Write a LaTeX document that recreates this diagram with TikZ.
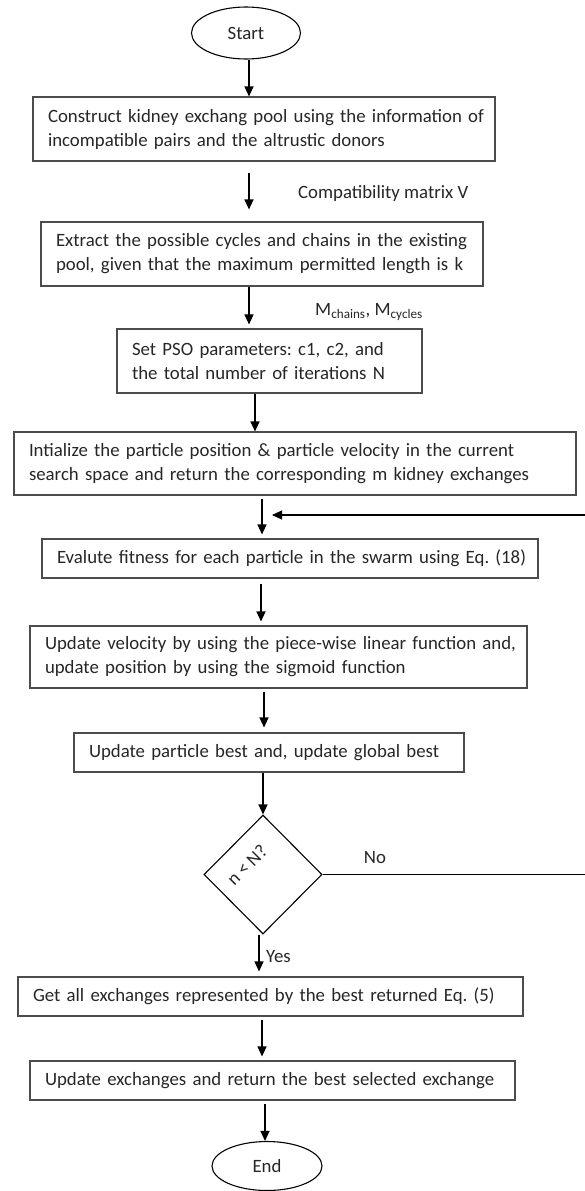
\documentclass[tikz,border=0pt]{standalone}
\usepackage{fontspec}
\setmainfont{Carlito}
\usetikzlibrary{shapes.geometric,arrows.meta}

\newcommand\boxfont{\fontsize{18.8}{24}\selectfont\frenchspacing}

\begin{document}
\begin{tikzpicture}[x=1pt,y=-1pt,
  stepbox/.style={draw=black!70, line width=1.1pt, align=left, inner xsep=15pt,
    inner ysep=0pt, font=\boxfont, text=black!85},
  terminal/.style={draw=black, line width=1.1pt, ellipse, inner sep=0pt,
    font=\boxfont, text=black!85},
  decision/.style={draw=black, line width=1.1pt, diamond, inner sep=0pt},
  lbl/.style={font=\boxfont, text=black!85, inner sep=0pt},
  arr/.style={draw=black, line width=1.2pt, -{Triangle[length=10pt,width=9pt]}}
]
\useasboundingbox (0,0) rectangle (584,1191);

% terminals
\node[terminal, minimum width=109pt, minimum height=52pt] (start) at (246,33) {Start};
\node[terminal, minimum width=110pt, minimum height=49pt] (end) at (267,1166) {End};

% process steps (each line kept whole in an \mbox)
\node[stepbox, text width=432pt, minimum height=64pt] (b1) at (264,129)
  {\mbox{Construct kidney exchang pool using the information of}\\
   \mbox{incompatible pairs and the altrustic donors}};
\node[stepbox, text width=412pt, minimum height=64pt] (b2) at (262,254)
  {\mbox{Extract the possible cycles and chains in the existing}\\
   \mbox{pool, given that the maximum permitted length is k}};
\node[stepbox, text width=275pt, minimum height=64pt] (b3) at (269.5,361)
  {\mbox{Set PSO parameters: c1, c2, and}\\
   \mbox{the total number of iterations N}};
\node[stepbox, text width=532pt, minimum height=63pt] (b4) at (295,463.5)
  {\mbox{Intialize the particle position \& particle velocity in the current}\\
   \mbox{search space and return the corresponding m kidney exchanges}};
\node[stepbox, text width=466pt, minimum height=39pt] (b5) at (290,558.5)
  {\mbox{Evalute fitness for each particle in the swarm using Eq. (18)}};
\node[stepbox, text width=467pt, minimum height=62pt] (b6) at (278.5,657)
  {\mbox{Update velocity by using the piece-wise linear function and,}\\
   \mbox{update position by using the sigmoid function}};
\node[stepbox, text width=360pt, minimum height=39pt] (b7) at (269,752.5)
  {\mbox{Update particle best and, update global best}};
\node[decision, minimum width=118pt, minimum height=119pt] (dia) at (263,874.5) {};
\node[lbl, rotate=45] (cond) at (247,865) {n < N?};
\node[stepbox, text width=475pt, minimum height=39pt] (b8) at (270.5,996.5)
  {\mbox{Get all exchanges represented by the best returned Eq. (5)}};
\node[stepbox, text width=455pt, minimum height=39pt] (b9) at (272.5,1080.5)
  {\mbox{Update exchanges and return the best selected exchange}};

% side labels
\node[lbl, anchor=west] (lcomp) at (298,193) {Compatibility matrix V};
\node[lbl, anchor=west] (lmat) at (315,312) {M\textsubscript{chains}, M\textsubscript{cycles}};
\node[lbl] (lno) at (375,858) {No};
\node[lbl, anchor=west] (lyes) at (266,957) {Yes};

% flow
\draw[arr] ([xshift=3pt]start.south) -- ([xshift=-15pt]b1.north);
\draw[arr, shorten <=11pt, shorten >=12pt] ([xshift=-15pt]b1.south) -- ([xshift=-13pt]b2.north);
\draw[arr, shorten >=4pt] ([xshift=-13pt]b2.south) -- ([xshift=-20.5pt]b3.north);
\draw[arr] ([xshift=-14.5pt]b3.south) -- ([xshift=-40pt]b4.north);
\draw[arr, shorten <=3pt, shorten >=4pt] ([xshift=-33pt]b4.south) -- ([xshift=-28pt]b5.north);
\draw[arr, shorten <=5pt, shorten >=4pt] ([xshift=-29pt]b5.south) -- ([xshift=-17.5pt]b6.north);
\draw[arr, shorten <=3pt, shorten >=5pt] ([xshift=-14.5pt]b6.south) -- ([xshift=-5pt]b7.north);
\draw[arr] ([xshift=-6pt]b7.south) -- (dia.north);
\draw[arr, shorten >=5pt] ([xshift=-4pt]dia.south) -- ([xshift=-11.5pt]b8.north);
\draw[arr, shorten <=3pt, shorten >=4pt] ([xshift=-8.5pt]b8.south) -- ([xshift=-10.5pt]b9.north);
\draw[arr, shorten <=3pt] ([xshift=-7.5pt]b9.south) -- ([xshift=-2pt]end.north);

% loop back when n < N fails
\coordinate (loopin) at (272,515);
\draw[arr] (dia.east) -- (600,874.5) |- (loopin);
\end{tikzpicture}
\end{document}
